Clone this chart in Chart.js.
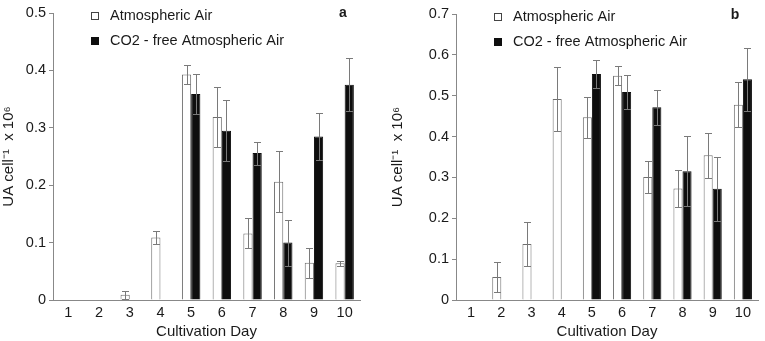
<!DOCTYPE html>
<html>
<head>
<meta charset="utf-8">
<script src="https://cdn.jsdelivr.net/npm/chart.js@4.4.1/dist/chart.umd.min.js"></script>
<style>
html, body { margin: 0; padding: 0; background: #fff; }
#wrap { position: relative; width: 765px; height: 341px; }
.box { position: absolute; top: 0; height: 341px; }
#box_a { left: 0; width: 382px; }
#box_b { left: 382px; width: 383px; }
</style>
</head>
<body>
<div id="wrap">
  <div class="box" id="box_a"><canvas id="chart_a"></canvas></div>
  <div class="box" id="box_b"><canvas id="chart_b"></canvas></div>
</div>
<script>
// data
var days = ['1', '2', '3', '4', '5', '6', '7', '8', '9', '10'];
var series_names = ['Atmospheric Air', 'CO2 - free Atmospheric Air'];

var air_a      = [0, 0, 0.009, 0.109, 0.393, 0.319, 0.116, 0.206, 0.065, 0.064];
var air_a_err  = [0, 0, 0.007, 0.011, 0.017, 0.052, 0.026, 0.053, 0.026, 0.004];
var free_a     = [0, 0, 0, 0, 0.359, 0.295, 0.256, 0.100, 0.285, 0.375];
var free_a_err = [0, 0, 0, 0, 0.035, 0.053, 0.020, 0.040, 0.041, 0.046];

var air_b      = [0, 0.056, 0.137, 0.492, 0.447, 0.549, 0.301, 0.273, 0.354, 0.478];
var air_b_err  = [0, 0.036, 0.054, 0.078, 0.051, 0.023, 0.040, 0.045, 0.055, 0.055];
var free_b     = [0, 0, 0, 0, 0.553, 0.509, 0.472, 0.315, 0.272, 0.540];
var free_b_err = [0, 0, 0, 0, 0.035, 0.042, 0.043, 0.086, 0.078, 0.077];

var y_ticks_a = [0, 0.1, 0.2, 0.3, 0.4, 0.5];
var y_ticks_b = [0, 0.1, 0.2, 0.3, 0.4, 0.5, 0.6, 0.7];

var text_color = '#1a1a1a';
var axis_color = '#888';
var font_name = '"Liberation Sans", Arial, sans-serif';

// symmetric error bars with caps, drawn over the bars
var error_bars = {
    id: 'error_bars',
    afterDatasetsDraw: function(chart) {
        var ctx = chart.ctx;
        var y = chart.scales.y;
        ctx.save();
        ctx.strokeStyle = '#7a7a7a';
        ctx.lineWidth = 1;
        chart.data.datasets.forEach(function(ds, i) {
            var meta = chart.getDatasetMeta(i);
            meta.data.forEach(function(bar, j) {
                var err = ds.errors[j];
                if (!err) return;
                var v = ds.data[j];
                var x = Math.round(bar.x) + 0.5;
                var top = Math.round(y.getPixelForValue(v + err)) + 0.5;
                var bottom = Math.round(y.getPixelForValue(v - err)) + 0.5;
                ctx.beginPath();
                ctx.moveTo(x, top); ctx.lineTo(x, bottom);
                ctx.moveTo(x - 3.5, top); ctx.lineTo(x + 3.5, top);
                ctx.moveTo(x - 3.5, bottom); ctx.lineTo(x + 3.5, bottom);
                ctx.stroke();
            });
        });
        ctx.restore();
    }
};

// legend and panel letter, placed inside the plot
var panel_legend = {
    id: 'panel_legend',
    afterDraw: function(chart, args, opts) {
        var ctx = chart.ctx;
        ctx.save();
        ctx.font = '14.5px ' + font_name;
        ctx.textBaseline = 'middle';
        chart.data.datasets.forEach(function(ds, i) {
            var cy = opts.y + i * 25;
            ctx.fillStyle = ds.backgroundColor;
            ctx.fillRect(opts.x, cy - 4, 8, 8);
            ctx.strokeStyle = i === 0 ? '#444' : ds.borderColor;
            ctx.lineWidth = 1;
            ctx.strokeRect(opts.x + 0.5, cy - 3.5, 7, 7);
            ctx.fillStyle = text_color;
            ctx.fillText(ds.label, opts.x + 19, cy);
        });
        ctx.font = 'bold 14px ' + font_name;
        ctx.textAlign = 'center';
        ctx.fillText(opts.letter, opts.letter_x, opts.letter_y);
        ctx.restore();
    }
};

function draw_panel(canvas_id, air, air_err, free, free_err, y_ticks, s) {
    var ctx = document.getElementById(canvas_id).getContext('2d');
    return new Chart(ctx, {
        type: 'bar',
        data: {
            labels: days,
            datasets: [{
                label: series_names[0],
                data: air,
                errors: air_err,
                backgroundColor: '#ffffff',
                borderColor: '#6e6e6e',
                borderWidth: 1
            }, {
                label: series_names[1],
                data: free,
                errors: free_err,
                backgroundColor: '#0e0e0e',
                borderColor: '#0e0e0e',
                borderWidth: 1
            }]
        },
        options: {
            responsive: true,
            maintainAspectRatio: false,
            animation: false,
            datasets: { bar: { categoryPercentage: 0.6, barPercentage: 1.0 } },
            layout: { padding: { left: 0, right: s.pad_right, top: s.pad_top, bottom: 0 } },
            plugins: {
                legend: { display: false },
                tooltip: { enabled: false },
                panel_legend: s.legend
            },
            scales: {
                x: {
                    grid: { display: false, drawTicks: false },
                    border: { color: axis_color, width: 1 },
                    ticks: { color: text_color, font: { family: font_name, size: 14.5 }, padding: 4 },
                    title: {
                        display: true, text: 'Cultivation Day', color: text_color,
                        font: { family: font_name, size: 15 }, padding: { top: 0, bottom: 0 }
                    },
                    afterFit: function(scale) { scale.height = 41; }
                },
                y: {
                    min: 0,
                    max: y_ticks[y_ticks.length - 1],
                    afterBuildTicks: function(scale) {
                        scale.ticks = y_ticks.map(function(v) { return { value: v }; });
                    },
                    grid: { drawOnChartArea: false, drawTicks: true, tickLength: 4, color: axis_color },
                    border: { color: axis_color, width: 1 },
                    ticks: {
                        color: text_color, font: { family: font_name, size: 14.5 }, padding: 3,
                        callback: function(v) { return v === 0 ? '0' : v.toFixed(1); }
                    },
                    title: {
                        display: true, text: 'UA cell\u207B\u00B9  x 10\u2076', color: text_color,
                        font: { family: font_name, size: 15 }, padding: { top: s.title_pad, bottom: 0 }
                    },
                    afterFit: function(scale) { scale.width = s.axis_x; }
                }
            }
        },
        plugins: [error_bars, panel_legend]
    });
}

draw_panel('chart_a', air_a, air_a_err, free_a, free_a_err, y_ticks_a, {
    pad_right: 22, pad_top: 13, axis_x: 53, title_pad: 0,
    legend: { x: 91, y: 16, letter: 'a', letter_x: 343, letter_y: 13 }
});
draw_panel('chart_b', air_b, air_b_err, free_b, free_b_err, y_ticks_b, {
    pad_right: 7, pad_top: 14, axis_x: 74, title_pad: 7,
    legend: { x: 112, y: 17, letter: 'b', letter_x: 353, letter_y: 15 }
});
</script>
</body>
</html>
